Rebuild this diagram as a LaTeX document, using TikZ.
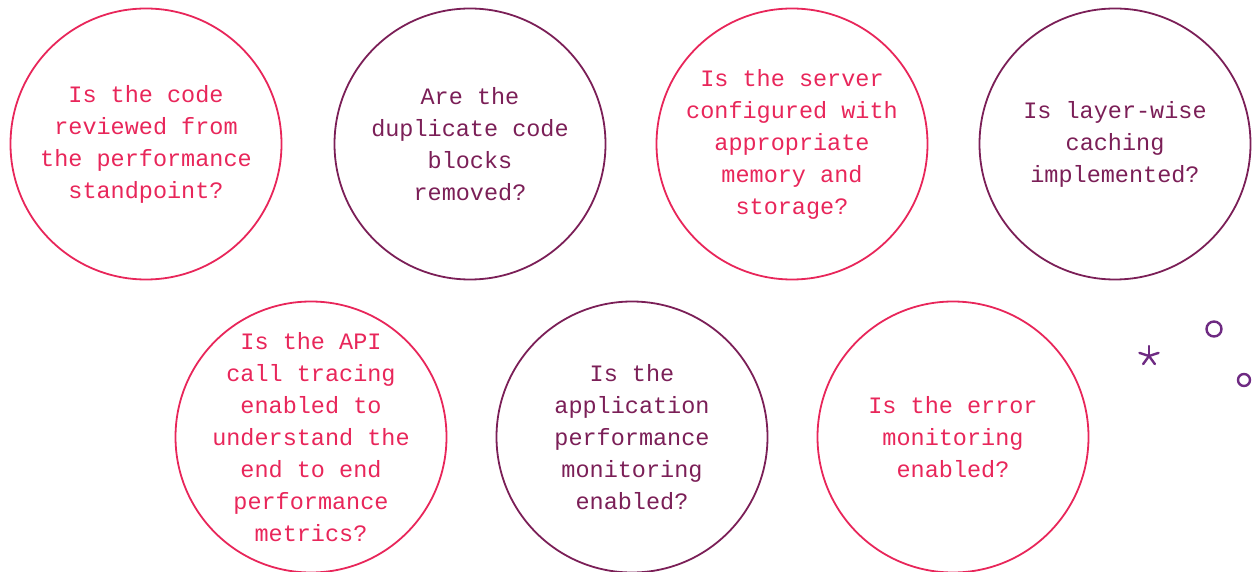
\documentclass[tikz,border=0pt]{standalone}
\usepackage{fontspec}
\setmonofont{Liberation Mono}
\definecolor{rosered}{HTML}{E8265A}
\definecolor{plum}{HTML}{7B1F57}
\definecolor{violet}{HTML}{6E2A82}
\begin{document}
\begin{tikzpicture}[x=1pt,y=-1pt,
  bubble/.style={circle,draw,line width=1.8pt,minimum size=271pt,inner sep=0pt},
  caption/.style={align=center,inner sep=0pt,font=\ttfamily\fontsize{23.5}{32}\selectfont},
  redbub/.style={bubble,draw=rosered},
  plumbub/.style={bubble,draw=plum},
  redtxt/.style={caption,text=rosered},
  plumtxt/.style={caption,text=plum}]
\useasboundingbox (0,0) rectangle (1253,572);
% question bubbles
\node[redbub]  (q1) at (146,144) {};
\node[plumbub] (q2) at (470,144) {};
\node[redbub]  (q3) at (792,144) {};
\node[plumbub] (q4) at (1115,144) {};
\node[redbub]  (q5) at (311,437) {};
\node[plumbub] (q6) at (632,437) {};
\node[redbub]  (q7) at (953,437) {};
% their texts
\node[redtxt]  (t1) at (q1.center) {Is the code\\reviewed from\\the performance\\standpoint?};
\node[plumtxt] (t2) at (q2.center) {Are the\\duplicate code\\blocks\\removed?};
\node[redtxt]  (t3) at (q3.center) {Is the server\\configured with\\appropriate\\memory and\\storage?};
\node[plumtxt] (t4) at (q4.center) {Is layer-wise\\caching\\implemented?};
\node[redtxt]  (t5) at (q5.center) {Is the API\\call tracing\\enabled to\\understand the\\end to end\\performance\\metrics?};
\node[plumtxt] (t6) at (q6.center) {Is the\\application\\performance\\monitoring\\enabled?};
\node[redtxt]  (t7) at (q7.center) {Is the error\\monitoring\\enabled?};
% small decorative marks
\draw[violet,line width=2.4pt] (1214,329) circle (7.5);
\draw[violet,line width=2.4pt] (1244,380) circle (6);
\foreach \a in {90,162,234,306,18}
  \draw[violet,line width=2.4pt,line cap=round] (1149,356) -- ++(\a:-10);
\end{tikzpicture}
\end{document}
